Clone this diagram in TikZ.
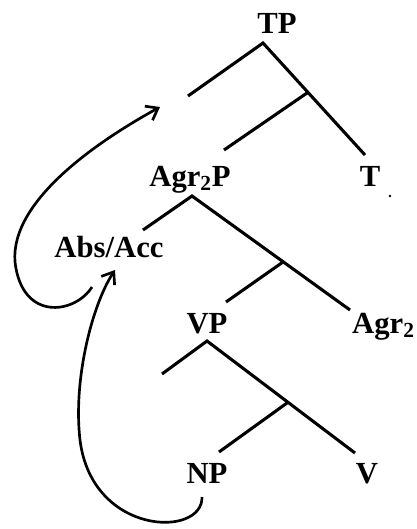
\documentclass[tikz,border=0pt]{standalone}
\usepackage{fontspec}
\setmainfont{Liberation Serif}
\usepackage{tikz}
\usetikzlibrary{arrows.meta}

\tikzset{
  cat/.style={font=\fontsize{23}{27}\selectfont\bfseries, inner sep=0pt, anchor=base},
  branch/.style={line width=2.3pt},
  move/.style={line width=2pt, -{Straight Barb[length=8pt, width=12pt, line width=2pt]}}
}

\begin{document}
\begin{tikzpicture}[x=0.75pt, y=-0.75pt]
  \useasboundingbox (0,0) rectangle (417,529);

  \node[cat] (tp) at (277,33) {TP};
  \node[cat] (agrp) at (190,186) {Agr\textsubscript{2}P};
  \node[cat] (t) at (370,186) {T};
  \node[cat] (abs) at (109,257) {Abs/Acc};
  \node[cat] (vp) at (207,333) {VP};
  \node[cat, anchor=base east] (agr) at (415,333) {Agr\textsubscript{2}};
  \node[cat] (np) at (207,483) {NP};
  \node[cat] (v) at (367,483) {V};

  \coordinate (tptop) at (263,43);
  \coordinate (spec) at (188,96);
  \coordinate (tbar) at (307,93);
  \coordinate (tend) at (365,155);
  \coordinate (agrpend) at (224,150);

  \coordinate (agrtop) at (192,196);
  \coordinate (absend) at (143,230);
  \coordinate (agrbar) at (283,262);
  \coordinate (agrend) at (350,310);
  \coordinate (vpend) at (226,302);

  \coordinate (vptop) at (207,341);
  \coordinate (vspec) at (162,374);
  \coordinate (vbar) at (287,403);
  \coordinate (vend) at (355,453);
  \coordinate (npend) at (219,452);

  \draw[branch] (spec) -- (tptop) -- (tend);
  \draw[branch] (tbar) -- (agrpend);
  \draw[branch] (absend) -- (agrtop) -- (agrend);
  \draw[branch] (agrbar) -- (vpend);
  \draw[branch] (vspec) -- (vptop) -- (vend);
  \draw[branch] (vbar) -- (npend);

  \fill (390,196) circle (1.3);

  \coordinate (landing) at (160,107);
  \coordinate (absout) at (92,287);
  \coordinate (absin) at (115,270);
  \coordinate (npout) at (202,497);

  \draw[move] (absout) .. controls (75,314) and (22,322) .. (15,262)
    .. controls (10,200) and (100,140) .. (landing);
  \draw[move] (npout) .. controls (203,538) and (92,536) .. (80,440)
    .. controls (73,380) and (92,305) .. (absin);
\end{tikzpicture}
\end{document}
